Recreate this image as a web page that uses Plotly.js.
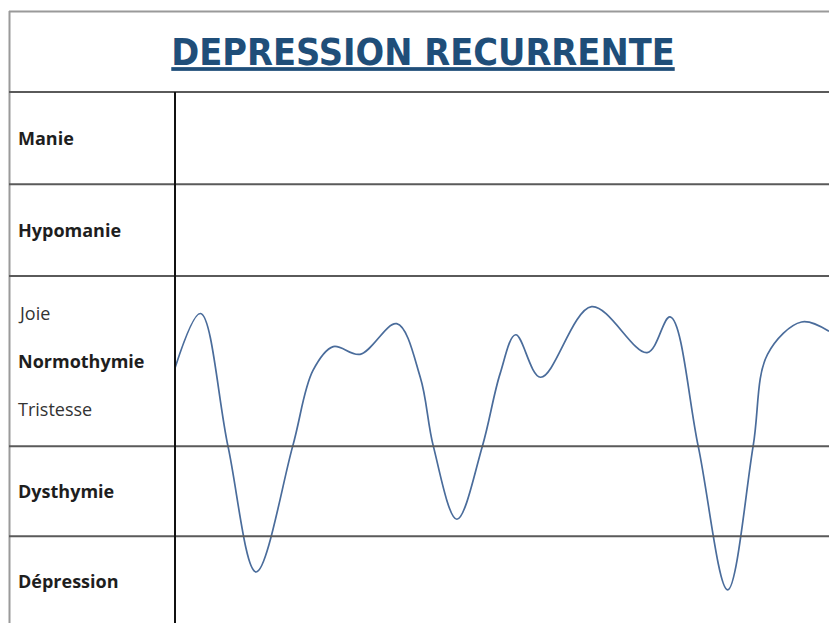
<!DOCTYPE html>
<html>
<head>
<meta charset="utf-8">
<script src="https://cdn.plot.ly/plotly-3.0.1.min.js"></script>
<style>html,body{margin:0;padding:0;background:#fff;}#chart{width:829px;height:623px;}</style>
</head>
<body>
<div id="chart"></div>
<script>
// Time axis (arbitrary units, 0..100) and mood level (0 = normothymie, ±1 = normal limits)
var time = [0, 3.9, 8.1, 12.4, 18.0, 21.1, 24.2, 28.3, 33.9, 37.5, 39.5, 43.1, 47.0, 49.7, 52.1, 55.9, 63.7, 72.2, 75.7, 80.0, 84.5, 88.4, 90.6, 95.8, 100];
var mood = [-0.08, 0.56, -1.0, -2.48, -1.0, -0.11, 0.17, 0.08, 0.44, -0.19, -1.0, -1.86, -1.0, -0.15, 0.31, -0.19, 0.64, 0.10, 0.52, -1.0, -2.69, -1.0, 0.08, 0.46, 0.35];

// Row (band) labels and their band limits on the mood scale
var bandNames = ["Manie", "Hypomanie", "Normothymie", "Dysthymie", "Dépression"];
var bandTop = [3.165, 2.08, 1.0, -1.0, -2.06];
var bandBottom = [2.08, 1.0, -1.0, -2.06, -3.12];
var subLabels = ["Joie", "Tristesse"];
var subLevels = [0.565, -0.565];
var titleText = "DEPRESSION RECURRENTE";

var W = 829, H = 623, L = 175, T = 92;
var yMin = -3.08, yMax = 3.165;
function pxX(px) { return (px - L) / (W - L); }
function pxY(py) { return (H - py) / (H - T); }
function vY(v) { return (v - yMin) / (yMax - yMin); }

var shapes = [];
// outer frame: top and left borders
shapes.push({type: 'line', xref: 'paper', yref: 'paper', x0: pxX(9), x1: pxX(W), y0: pxY(11.5), y1: pxY(11.5), line: {color: '#9a9a9a', width: 2}});
shapes.push({type: 'line', xref: 'paper', yref: 'paper', x0: pxX(9.5), x1: pxX(9.5), y0: pxY(11), y1: pxY(H + 5), line: {color: '#9a9a9a', width: 2}});
// horizontal row separators
for (var i = 0; i < bandTop.length; i++) {
  shapes.push({type: 'line', xref: 'paper', yref: 'paper', x0: pxX(9), x1: pxX(W + 5), y0: vY(bandTop[i]), y1: vY(bandTop[i]), line: {color: '#5a5a5a', width: 2}});
}
// vertical separator between labels and chart
shapes.push({type: 'line', xref: 'paper', yref: 'paper', x0: 0, x1: 0, y0: vY(bandTop[0]), y1: pxY(H + 5), line: {color: '#111111', width: 2}});

var annotations = [];
for (var j = 0; j < bandNames.length; j++) {
  var yc = bandNames[j] === "Normothymie" ? 0 : (bandTop[j] + bandBottom[j]) / 2;
  annotations.push({xref: 'paper', yref: 'y', x: pxX(16), y: yc, text: '<b>' + bandNames[j] + '</b>', showarrow: false, xanchor: 'left', yanchor: 'middle', font: {family: 'Open Sans, sans-serif', size: 18, color: '#1e1e1e'}});
}
for (var k = 0; k < subLabels.length; k++) {
  annotations.push({xref: 'paper', yref: 'y', x: pxX(16), y: subLevels[k], text: subLabels[k], showarrow: false, xanchor: 'left', yanchor: 'middle', font: {family: 'Open Sans, sans-serif', size: 18, color: '#333333'}});
}

var trace = {x: time, y: mood, type: 'scatter', mode: 'lines', line: {shape: 'spline', smoothing: 1, color: '#4a6c9b', width: 1.7}, hoverinfo: 'skip'};

var layout = {
  width: W, height: H,
  margin: {l: L, r: 0, t: T, b: 0, pad: 0},
  paper_bgcolor: '#ffffff', plot_bgcolor: '#ffffff',
  showlegend: false,
  title: {text: '<b><u>' + titleText + '</u></b>', x: 423 / W, xanchor: 'center', xref: 'container', y: 1 - 52 / H, yanchor: 'middle', yref: 'container', font: {family: 'Liberation Sans Narrow, Arial Narrow, DejaVu Sans Condensed, sans-serif', size: 37.5, color: '#1f4e79'}},
  xaxis: {range: [0, 100], visible: false, fixedrange: true},
  yaxis: {range: [yMin, yMax], visible: false, fixedrange: true},
  shapes: shapes,
  annotations: annotations
};

Plotly.newPlot('chart', [trace], layout, {displayModeBar: false, staticPlot: true});
</script>
</body>
</html>
